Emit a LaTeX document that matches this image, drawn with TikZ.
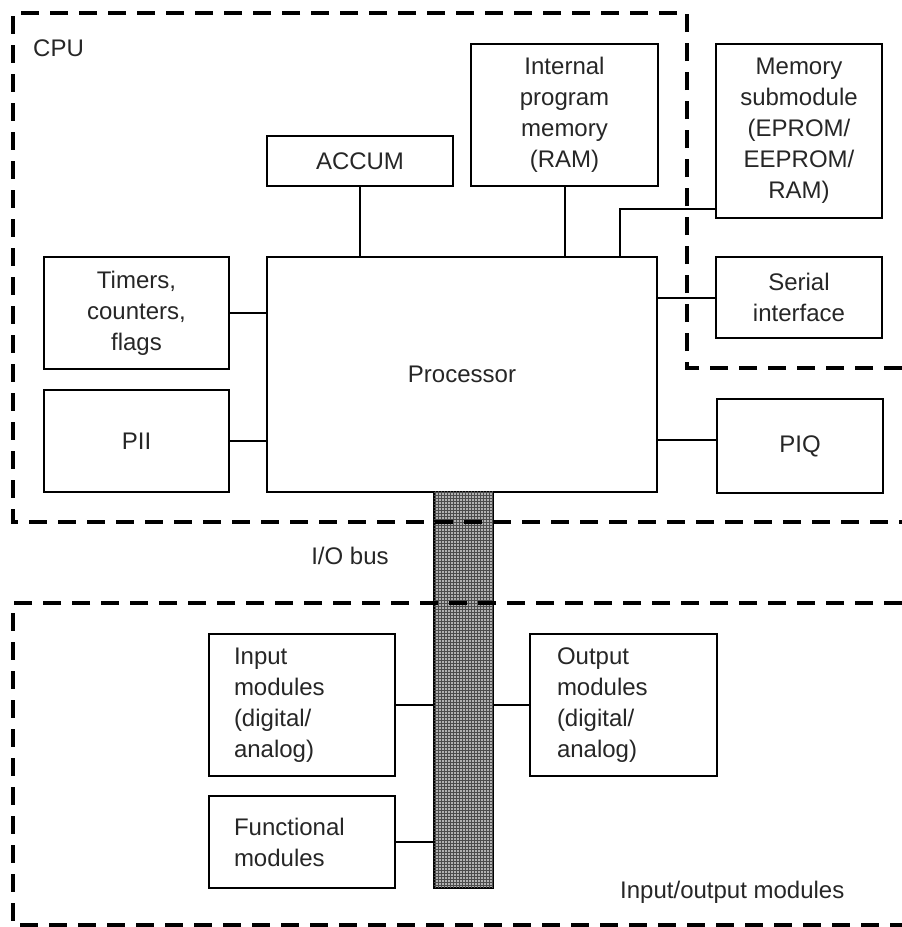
\documentclass[tikz,border=0pt]{standalone}
\usepackage{fontspec}
\setmainfont{Liberation Sans}
\usetikzlibrary{positioning, patterns}

\begin{document}
\begin{tikzpicture}[
    x=1pt, y=-1pt,
    box/.style={draw, line width=2pt, inner sep=0pt, anchor=north west, align=center, font=\fontsize{24}{31}\selectfont, text=black!85},
    lbox/.style={box, align=left, inner xsep=25pt},
    wire/.style={line width=2pt},
    frame/.style={line width=3.5pt, dash pattern=on 18pt off 11pt},
    bus/.style={draw, line width=1.5pt, fill=black!30, postaction={pattern=grid, pattern color=black!70}, inner sep=0pt, anchor=north west},
    lab/.style={font=\fontsize{24}{31}\selectfont, text=black!85, inner sep=0pt},
  ]
    \useasboundingbox (0,0) rectangle (902,927);

    % CPU
    \node[box, minimum width=390pt, minimum height=235pt] (proc) at (266,256) {Processor};
    \node[box, minimum width=186pt, minimum height=50pt] (accum) at (266,135) {ACCUM};
    \node[box, minimum width=187pt, minimum height=142pt] (intmem) at (470,43) {Internal\\program\\memory\\(RAM)};
    \node[box, minimum width=166pt, minimum height=174pt] (memsub) at (715,43) {Memory\\submodule\\(EPROM/\\EEPROM/\\RAM)};
    \node[box, minimum width=166pt, minimum height=81pt] (serial) at (715,256) {Serial\\interface};
    \node[box, minimum width=185pt, minimum height=112pt] (timers) at (43,256) {Timers,\\counters,\\flags};
    \node[box, minimum width=185pt, minimum height=102pt] (pii) at (43,389) {PII};
    \node[box, minimum width=166pt, minimum height=94pt] (piq) at (716,398) {PIQ};

    % I/O modules
    \node[bus, minimum width=59pt, minimum height=396pt] (bus) at (433,491) {};
    \node[lbox, text width=136pt, minimum height=142pt] (inmod) at (208,633) {Input\\modules\\(digital/\\analog)};
    \node[lbox, inner xsep=27pt, text width=133pt, minimum height=142pt] (outmod) at (529,633) {Output\\modules\\(digital/\\analog)};
    \node[lbox, text width=136pt, minimum height=92pt] (funcmod) at (208,795) {Functional\\modules};

    \draw[wire] (accum.south) -- (accum.south |- proc.north);
    \draw[wire] (intmem.south) -- (intmem.south |- proc.north);
    \draw[wire] ([yshift=10pt]memsub.south west) -| ([xshift=-38pt]proc.north east);
    \draw[wire] (serial.west) -- (proc.east |- serial.west);
    \draw[wire] ([yshift=6pt]piq.west) coordinate (piqin) -- (proc.east |- piqin);
    \draw[wire] (timers.east) -- (proc.west |- timers.east);
    \draw[wire] (pii.east) -- (proc.west |- pii.east);
    \draw[wire] (inmod.east) -- (bus.west |- inmod.east);
    \draw[wire] (outmod.west) -- (bus.east |- outmod.west);
    \draw[wire] (funcmod.east) -- (bus.west |- funcmod.east);

    % frames
    \draw[frame] (902,368) -- (687,368) -- (687,13) -- (13,13) -- (13,522) -- (902,522);
    \draw[frame] (902,603) -- (13,603) -- (13,925) -- (902,925);

    \node[lab, anchor=west] (cpulab) at (33,48) {CPU};
    \node[lab] (buslab) at (350,556) {I/O bus};
    \node[lab, anchor=west] (iolab) at (620,892) {Input/output modules};
  \end{tikzpicture}
\end{document}
